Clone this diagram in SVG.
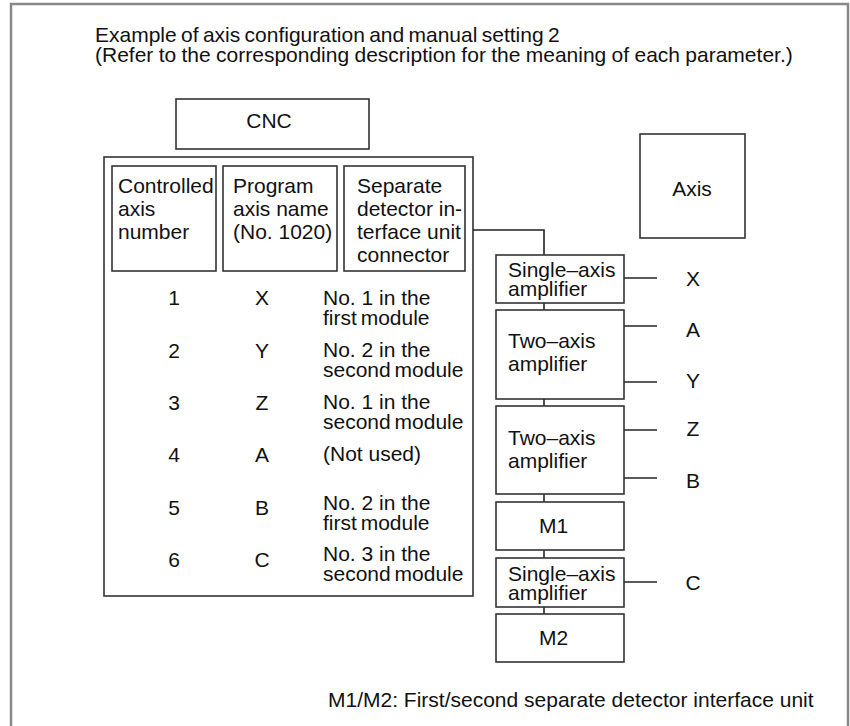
<svg xmlns="http://www.w3.org/2000/svg" width="850" height="726" viewBox="0 0 850 726">
<style>
text{font-family:"Liberation Sans",Arial,sans-serif;font-size:21px;fill:#111}
.box{fill:#fff;stroke:#333;stroke-width:1.6}
.ln{fill:none;stroke:#222;stroke-width:1.6}
.mid{text-anchor:middle}
</style>
<rect x="11" y="4" width="837" height="730" fill="#fff" stroke="#888" stroke-width="2.5"/>
<g id="title">
<text x="95" y="41.5" word-spacing="-1.5">Example of axis configuration and manual setting 2</text>
<text x="95" y="61.5" word-spacing="-0.5">(Refer to the corresponding description for the meaning of each parameter.)</text>
</g>
<g id="cnc">
<rect class="box" x="176" y="99" width="193" height="50"/>
<text class="mid" x="269" y="128" font-size="25">CNC</text>
</g>
<g id="cnc-table">
<rect class="box" x="104" y="157" width="369" height="439"/>
<g id="hdr1"><rect class="box" x="112" y="166" width="104" height="105"/>
<text x="118" y="193">Controlled</text><text x="118" y="216">axis</text><text x="118" y="239">number</text></g>
<g id="hdr2"><rect class="box" x="223" y="166" width="114" height="105"/>
<text x="233" y="193">Program</text><text x="233" y="216">axis name</text><text x="233" y="239">(No. 1020)</text></g>
<g id="hdr3"><rect class="box" x="344" y="166" width="121" height="105"/>
<text x="357" y="193">Separate</text><text x="357" y="216">detector in-</text><text x="357" y="239">terface unit</text><text x="357" y="262">connector</text></g>
<g id="rows">
<text class="mid" x="174" y="304.5">1</text><text class="mid" x="262" y="304.5">X</text>
<text x="323" y="304.5">No. 1 in the</text><text x="323" y="324.5" word-spacing="-2">first module</text>
<text class="mid" x="174" y="357.5">2</text><text class="mid" x="262" y="357.5">Y</text>
<text x="323" y="356.5">No. 2 in the</text><text x="323" y="377" word-spacing="-2">second module</text>
<text class="mid" x="174" y="409.5">3</text><text class="mid" x="262" y="409.5">Z</text>
<text x="323" y="408.5">No. 1 in the</text><text x="323" y="429" word-spacing="-2">second module</text>
<text class="mid" x="174" y="461.5">4</text><text class="mid" x="262" y="461.5">A</text>
<text x="323" y="460.5">(Not used)</text>
<text class="mid" x="174" y="514.5">5</text><text class="mid" x="262" y="514.5">B</text>
<text x="323" y="509.5">No. 2 in the</text><text x="323" y="529.5" word-spacing="-2">first module</text>
<text class="mid" x="174" y="566.5">6</text><text class="mid" x="262" y="566.5">C</text>
<text x="323" y="560.5">No. 3 in the</text><text x="323" y="580.5" word-spacing="-2">second module</text>
</g>
</g>
<g id="axis-box">
<rect class="box" x="640" y="134" width="105" height="104"/>
<text class="mid" x="692" y="195.5">Axis</text>
</g>
<g id="connectors">
<polyline class="ln" points="473,230 544,230 544,255"/>
<line class="ln" x1="544" y1="303" x2="544" y2="310"/>
<line class="ln" x1="544" y1="399" x2="544" y2="406"/>
<line class="ln" x1="544" y1="494" x2="544" y2="502"/>
<line class="ln" x1="544" y1="550" x2="544" y2="558"/>
<line class="ln" x1="544" y1="607" x2="544" y2="614"/>
<line class="ln" x1="624" y1="278" x2="657" y2="278" stroke-width="2"/>
<line class="ln" x1="624" y1="326" x2="657" y2="326" stroke-width="2"/>
<line class="ln" x1="624" y1="382" x2="657" y2="382"/>
<line class="ln" x1="624" y1="430" x2="657" y2="430"/>
<line class="ln" x1="624" y1="478" x2="657" y2="478"/>
<line class="ln" x1="624" y1="582" x2="657" y2="582" stroke-width="2"/>
</g>
<g id="amp1"><rect class="box" x="496" y="255" width="128" height="48"/>
<text x="508" y="276.5">Single–axis</text><text x="508" y="295.5">amplifier</text></g>
<g id="amp2"><rect class="box" x="496" y="310" width="128" height="89"/>
<text x="508" y="347.5">Two–axis</text><text x="508" y="371">amplifier</text></g>
<g id="amp3"><rect class="box" x="496" y="406" width="128" height="88"/>
<text x="508" y="444.5">Two–axis</text><text x="508" y="468">amplifier</text></g>
<g id="m1"><rect class="box" x="496" y="502" width="128" height="48"/>
<text x="539" y="532.5">M1</text></g>
<g id="amp4"><rect class="box" x="496" y="558" width="128" height="49"/>
<text x="508" y="580.5">Single–axis</text><text x="508" y="599.5">amplifier</text></g>
<g id="m2"><rect class="box" x="496" y="614" width="128" height="48"/>
<text x="539" y="644.5">M2</text></g>
<g id="axis-labels">
<text class="mid" x="693" y="285.5">X</text>
<text class="mid" x="693" y="336.5">A</text>
<text class="mid" x="693" y="387.5">Y</text>
<text class="mid" x="693" y="435.5">Z</text>
<text class="mid" x="693" y="487.5">B</text>
<text class="mid" x="693" y="589.5">C</text>
</g>
<g id="footer">
<text x="328" y="707">M1/M2:  First/second separate detector interface unit</text>
</g>
</svg>
